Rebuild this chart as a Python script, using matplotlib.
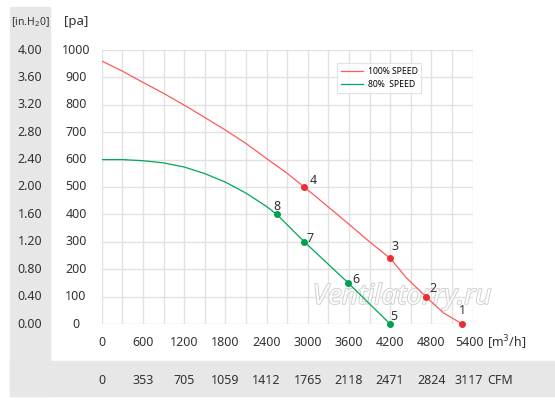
import matplotlib
matplotlib.use("Agg")
import matplotlib.pyplot as plt
import matplotlib.patheffects as pe
from matplotlib.patches import Rectangle
from matplotlib.transforms import blended_transform_factory

plt.rcParams['font.family'] = ['Noto Sans', 'DejaVu Sans']

# curves (flow m3/h, pressure Pa)
red_q = [0, 300, 600, 900, 1200, 1500, 1800, 2100, 2400, 2700, 2950, 3200, 3430, 3700,
         3900, 4200, 4440, 4720, 4975, 5250]
red_p = [960, 923, 882, 842, 799, 754, 708, 659, 604, 550, 500, 448, 400, 343,
         300, 240, 168, 100, 41, 0]
green_q = [0, 300, 600, 900, 1200, 1500, 1800, 2100, 2400, 2550, 2750, 2950, 3590, 4200]
green_p = [600, 600, 596, 588, 573, 549, 518, 478, 429, 400, 350, 300, 150, 0]

# duty points
red_pts_q = [5250, 4720, 4200, 2950]
red_pts_p = [0, 100, 240, 500]
red_pts_lbl = ["1", "2", "3", "4"]
green_pts_q = [4200, 3590, 2950, 2550]
green_pts_p = [0, 150, 300, 400]
green_pts_lbl = ["5", "6", "7", "8"]

x_ticks = [0, 600, 1200, 1800, 2400, 3000, 3600, 4200, 4800, 5400]
cfm_labels = ["0", "353", "705", "1059", "1412", "1765", "2118", "2471", "2824", "3117"]
pa_ticks = [0, 100, 200, 300, 400, 500, 600, 700, 800, 900, 1000]
inh2o_labels = ["0.00", "0.40", "0.80", "1.20", "1.60", "2.00", "2.40", "2.80", "3.20", "3.60", "4.00"]

W, H = 555, 404
fig = plt.figure(figsize=(W / 100, H / 100), dpi=100)
fig.patch.set_facecolor("white")


def fx(px):
    return px / W


def fy(py):
    return 1 - py / H


gray = "#e6e7e6"
fig.patches.append(Rectangle((fx(10), fy(396)), fx(40), fy(7) - fy(396),
                             transform=fig.transFigure, color=gray, zorder=-5))
fig.patches.append(Rectangle((fx(10), fy(396)), fx(545), fy(361) - fy(396),
                             transform=fig.transFigure, color=gray, zorder=-5))

ax = fig.add_axes([fx(101.7), fy(324), fx(472.5) - fx(101.7), fy(50) - fy(324)])
ax.set_xlim(0, 5400)
ax.set_ylim(0, 1000)
ax.set_xticks(range(0, 5401, 300))
ax.set_yticks(pa_ticks)
ax.grid(True, color="#e2e2e2", lw=1)
ax.tick_params(length=0, labelbottom=False, labelleft=False)
for s in ax.spines.values():
    s.set_visible(False)
ax.set_axisbelow(True)
ax.patch.set_alpha(0)

red_line = "#ff5a5a"
red_dot = "#ee2c34"
green_line = "#00a65a"
green_dot = "#00a04e"

ax.plot(red_q, red_p, color=red_line, lw=0.9, label="100% SPEED", zorder=3)
ax.plot(green_q, green_p, color=green_line, lw=0.9, label="80%  SPEED", zorder=3)
ax.plot(red_pts_q, red_pts_p, "o", color=red_dot, ms=4, zorder=4, clip_on=False)
ax.plot(green_pts_q, green_pts_p, "o", color=green_dot, ms=4, zorder=4, clip_on=False)

red_off = [(0, 13), (7, 8), (5, 12), (9, 7)]
green_off = [(4, 8), (8, 3), (6, 3), (0, 8)]
for q, p, t, o in zip(red_pts_q + green_pts_q, red_pts_p + green_pts_p,
                      red_pts_lbl + green_pts_lbl, red_off + green_off):
    ax.annotate(t, (q, p), xytext=o, textcoords="offset pixels", fontsize=9,
                color="#333333", ha="center", va="center", zorder=5)

ax.text(4373, 99, "Ventilatorry.ru", fontsize=20, style="italic", ha="center", va="center",
        color="white", alpha=0.9, zorder=2,
        path_effects=[pe.withStroke(linewidth=1.2, foreground="#c8c8c8")])

leg = ax.legend(loc="upper left", bbox_to_anchor=(fx(337), fy(63)), bbox_transform=fig.transFigure,
                fontsize=6.2, frameon=True, fancybox=False, edgecolor="#dddddd",
                handlelength=2.6, borderpad=0.45, labelspacing=0.5, handletextpad=0.5,
                borderaxespad=0)
leg.get_frame().set_linewidth(0.8)

txt = "#333333"
ty = blended_transform_factory(fig.transFigure, ax.transData)
for v, lab in zip(pa_ticks, inh2o_labels):
    ax.text(fx(30), v, lab, transform=ty, ha="center", va="center", fontsize=9, color=txt)
    ax.text(fx(76), v, str(v), transform=ty, ha="center", va="center", fontsize=9, color=txt)

tx = blended_transform_factory(ax.transData, fig.transFigure)
for v, lab in zip(x_ticks, cfm_labels):
    xv = v if v < 5400 else 5350
    ax.text(xv, fy(343), str(v), transform=tx, ha="center", va="center", fontsize=9, color=txt, clip_on=False)
    ax.text(xv, fy(380), lab, transform=tx, ha="center", va="center", fontsize=9, color=txt, clip_on=False)

fig.text(fx(487), fy(343), "[m$^3$/h]", ha="left", va="center", fontsize=9, color=txt)
fig.text(fx(487), fy(380), "CFM", ha="left", va="center", fontsize=9, color=txt)
fig.text(fx(30), fy(22), "[in.H$_2$0]", ha="center", va="center", fontsize=7.5, color=txt)
fig.text(fx(76), fy(22), "[pa]", ha="center", va="center", fontsize=9.5, color=txt)

fig.savefig("out.png", dpi=100)
